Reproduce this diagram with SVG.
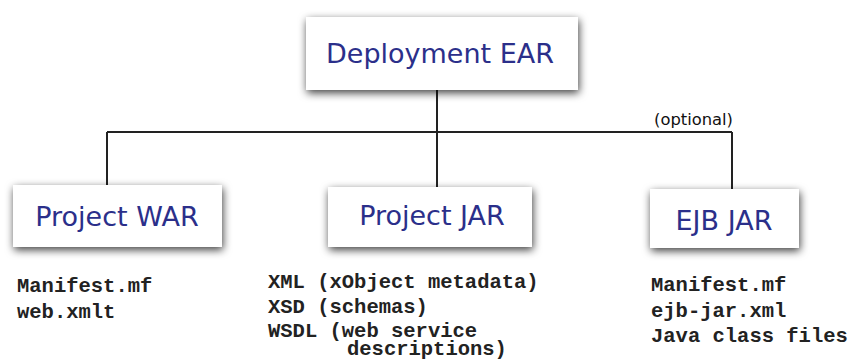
<svg xmlns="http://www.w3.org/2000/svg" width="856" height="360" viewBox="0 0 856 360">
<defs>
<filter id="sh" x="-20%" y="-40%" width="140%" height="190%">
<feDropShadow dx="1" dy="3" stdDeviation="4" flood-color="#000" flood-opacity="0.75"/>
</filter>
</defs>
<style>
.box{fill:#fff;filter:url(#sh)}
.t{font-family:"DejaVu Sans",Verdana,sans-serif;font-size:27px;fill:#2b2f8a;text-anchor:middle}
.c{fill:none;stroke:#222;stroke-width:2}
.m{font-family:"Liberation Mono","Courier New",monospace;font-weight:bold;font-size:20.5px;fill:#222}
.o{font-family:"DejaVu Sans",Verdana,sans-serif;font-size:15px;fill:#111}
</style>
<rect width="856" height="360" fill="#fff"/>
<g id="connectors">
<path class="c" d="M437 90 V132 M107 132 H732 M107 132 V185 M437 132 V187 M732 132 V189"/>
<text class="o" x="654" y="125" textLength="79" lengthAdjust="spacingAndGlyphs">(optional)</text>
</g>
<g id="ear">
<rect class="box" x="306" y="17" width="272" height="73"/>
<text class="t" x="440" y="63">Deployment EAR</text>
</g>
<g id="war">
<rect class="box" x="13" y="185" width="209" height="62"/>
<text class="t" x="117" y="226">Project WAR</text>
<text class="m" x="17" y="292">Manifest.mf</text>
<text class="m" x="17" y="318">web.xmlt</text>
</g>
<g id="jar">
<rect class="box" x="328" y="187" width="204" height="60"/>
<text class="t" x="432" y="225">Project JAR</text>
<text class="m" x="268" y="288">XML (xObject metadata)</text>
<text class="m" x="268" y="313">XSD (schemas)</text>
<text class="m" x="268" y="337">WSDL (web service</text>
<text class="m" x="347" y="355">descriptions)</text>
</g>
<g id="ejb">
<rect class="box" x="650" y="189" width="149" height="59"/>
<text class="t" x="724" y="230">EJB JAR</text>
<text class="m" x="651" y="291">Manifest.mf</text>
<text class="m" x="651" y="317">ejb-jar.xml</text>
<text class="m" x="651" y="342">Java class files</text>
</g>
</svg>
